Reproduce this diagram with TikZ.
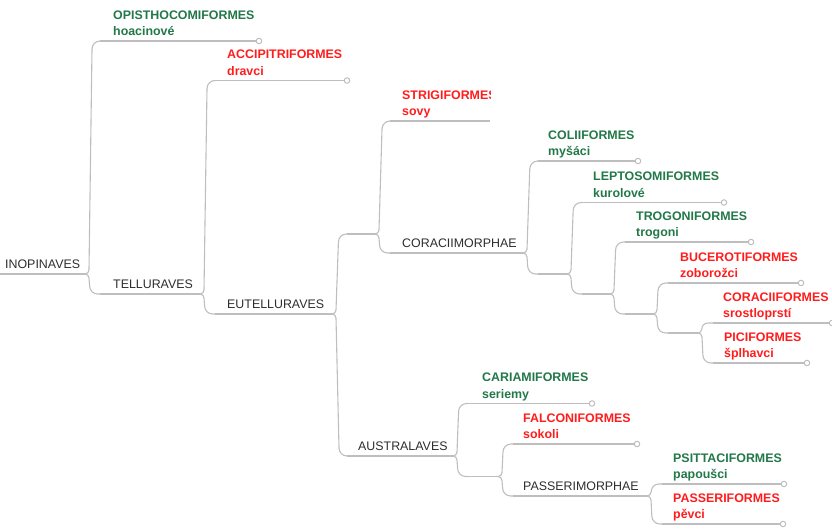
\documentclass[tikz,border=0pt]{standalone}
\usepackage{fontspec}
\setmainfont{Liberation Sans}
\usetikzlibrary{calc}
\definecolor{gr}{RGB}{34,120,72}
\definecolor{rd}{RGB}{255,28,28}
\definecolor{dk}{RGB}{45,45,45}
\definecolor{ln}{RGB}{190,190,190}
\newcommand\fs{\fontsize{12.4}{14}\selectfont}
% leaf: name, style, start x, text x, end x, underline y, latin, czech
\newcommand\Leaf[8]{%
  \coordinate (#1-s) at (#3,#6);
  \coordinate (#1-e) at (#5,#6);
  \node[#2] (#1) at (#4,#6-22) {#7};
  \node[#2] (#1-cz) at (#4,#6-5.5) {#8};
  \draw[uline] (#1-s) -- (#1-e);
  \node[endc] (#1-c) at (#1-e) {};
}
% inner: name, start x, text x, end x, underline y, text
\newcommand\Inner[6]{%
  \coordinate (#1-s) at (#2,#5);
  \coordinate (#1-e) at (#4,#5);
  \node[inl] (#1) at (#3,#5-5.5) {#6};
  \draw[uline] (#1-s) -- (#1-e);
}
% junction without text: name, start x, end x, y
\newcommand\Junc[4]{%
  \coordinate (#1-s) at (#2,#4);
  \coordinate (#1-e) at (#3,#4);
  \draw[uline] (#1-s) -- (#1-e);
}
\begin{document}
\begin{tikzpicture}[x=1pt,y=-1pt,
  uline/.style={draw=ln, line width=1.1pt},
  conn/.style={draw=ln, line width=1.1pt, to path={
    let \p1=(\tikztostart), \p2=(\tikztotarget),
        \n1={ifthenelse(\y2>\y1,1,-1)}, \n2={abs(\y2-\y1)},
        \n3={min(4,0.35*\n2)}, \n4={min(8,0.6*\n2)}, \n5={min(3,0.03*\n2)}
    in (\p1) .. controls (\x1+0.55*\n3,\y1) and (\x1+\n3,\y1+\n1*0.45*\n3) .. (\x1+\n3,\y1+\n1*\n3)
       -- (\x1+\n3+\n5,\y2-\n1*\n4)
       .. controls (\x1+\n3+\n5,\y2-\n1*0.45*\n4) and (\x1+\n3+\n5+0.45*\n4,\y2) .. (\x1+\n3+\n5+\n4,\y2)
       -- (\p2)}},
  lab/.style={anchor=base west, inner sep=0pt},
  grl/.style={lab, text=gr, font=\fs\bfseries},
  rdl/.style={lab, text=rd, font=\fs\bfseries},
  inl/.style={lab, text=dk, font=\fs},
  endc/.style={circle, draw=ln, fill=white, line width=1pt, minimum size=5.5pt, inner sep=0pt}
]
\useasboundingbox (0,0) rectangle (832,530);

% internal nodes
\Inner{inop}{0}{5}{85}{274}{INOPINAVES}
\Inner{tell}{100}{113}{200}{294}{TELLURAVES}
\Inner{eutell}{215}{227}{332}{314}{EUTELLURAVES}
\Junc{ua}{347}{375}{234}
\Inner{austr}{347}{358}{453}{456}{AUSTRALAVES}
\Inner{corm}{390}{402}{523}{253}{CORACIIMORPHAE}
\Junc{ub}{538}{567}{274}
\Junc{uc}{582}{610}{294}
\Junc{ud}{625}{653}{314}
\Junc{ue}{668}{698}{333}
\Junc{uf}{468}{498}{476.5}
\Inner{passm}{513}{523}{647}{496}{PASSERIMORPHAE}

% leaves
\Leaf{opis}{grl}{100}{113}{259}{41}{OPISTHOCOMIFORMES}{hoacinové}
\Leaf{accip}{rdl}{215}{227}{347}{80.5}{ACCIPITRIFORMES}{dravci}
\begin{scope}
  \clip (0,0) rectangle (490,530);
  \node[rdl] (strig) at (402,99) {STRIGIFORMES};
  \node[rdl] (strig-cz) at (402,115.5) {sovy};
\end{scope}
\coordinate (strig-s) at (390,121);
\coordinate (strig-e) at (490,121);
\draw[uline] (strig-s) -- (strig-e);
\Leaf{colii}{grl}{538}{548}{638}{161}{COLIIFORMES}{myšáci}
\Leaf{lepto}{grl}{582}{593}{724}{202.5}{LEPTOSOMIFORMES}{kurolové}
\Leaf{trogo}{grl}{625}{636}{751}{242}{TROGONIFORMES}{trogoni}
\Leaf{bucero}{rdl}{668}{680}{801}{283}{BUCEROTIFORMES}{zoborožci}
\Leaf{coracii}{rdl}{713}{723}{832}{323}{CORACIIFORMES}{srostloprstí}
\Leaf{pici}{rdl}{713}{724}{807}{363}{PICIFORMES}{šplhavci}
\Leaf{caria}{grl}{468}{482}{592}{403.5}{CARIAMIFORMES}{seriemy}
\Leaf{falco}{rdl}{513}{523}{637}{444}{FALCONIFORMES}{sokoli}
\Leaf{psitta}{grl}{662}{673}{784}{484}{PSITTACIFORMES}{papoušci}
\Leaf{passf}{rdl}{662}{673}{783}{524}{PASSERIFORMES}{pěvci}

% connectors
\draw[conn] (inop-e) to (opis-s);
\draw[conn] (inop-e) to (tell-s);
\draw[conn] (tell-e) to (accip-s);
\draw[conn] (tell-e) to (eutell-s);
\draw[conn] (eutell-e) to (ua-s);
\draw[conn] (eutell-e) to (austr-s);
\draw[conn] (ua-e) to (strig-s);
\draw[conn] (ua-e) to (corm-s);
\draw[conn] (corm-e) to (colii-s);
\draw[conn] (corm-e) to (ub-s);
\draw[conn] (ub-e) to (lepto-s);
\draw[conn] (ub-e) to (uc-s);
\draw[conn] (uc-e) to (trogo-s);
\draw[conn] (uc-e) to (ud-s);
\draw[conn] (ud-e) to (bucero-s);
\draw[conn] (ud-e) to (ue-s);
\draw[conn] (ue-e) to (coracii-s);
\draw[conn] (ue-e) to (pici-s);
\draw[conn] (austr-e) to (caria-s);
\draw[conn] (austr-e) to (uf-s);
\draw[conn] (uf-e) to (falco-s);
\draw[conn] (uf-e) to (passm-s);
\draw[conn] (passm-e) to (psitta-s);
\draw[conn] (passm-e) to (passf-s);
\end{tikzpicture}
\end{document}
